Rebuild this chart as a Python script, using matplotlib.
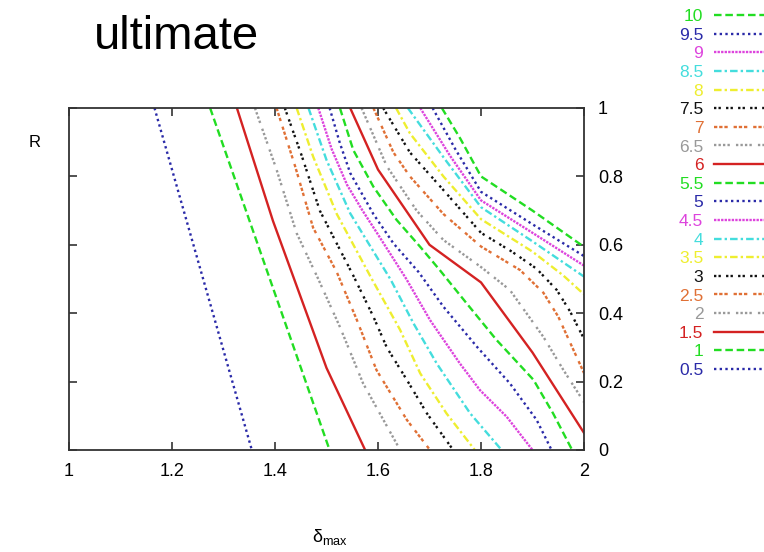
import matplotlib
matplotlib.use("Agg")
import matplotlib.pyplot as plt

plt.rcParams['font.family'] = ['Liberation Sans', 'DejaVu Sans']
plt.rcParams['mathtext.fontset'] = 'custom'
plt.rcParams['mathtext.rm'] = 'Liberation Sans'
plt.rcParams['mathtext.it'] = 'Liberation Sans'

#contour levels, legend order top -> bottom
levels = ['10', '9.5', '9', '8.5', '8', '7.5', '7', '6.5', '6', '5.5',
          '5', '4.5', '4', '3.5', '3', '2.5', '2', '1.5', '1', '0.5']

#each level: delta_max values and R values
d_10 = [1.724, 1.76, 1.80, 1.90, 2.0]
r_10 = [1.0, 0.91, 0.80, 0.70, 0.594]
d_9_5 = [1.706, 1.75, 1.80, 1.90, 2.0]
r_9_5 = [1.0, 0.88, 0.755, 0.66, 0.567]
d_9 = [1.682, 1.74, 1.80, 1.90, 2.0]
r_9 = [1.0, 0.86, 0.73, 0.635, 0.539]
d_8_5 = [1.658, 1.73, 1.80, 1.90, 2.0]
r_8_5 = [1.0, 0.85, 0.71, 0.61, 0.507]
d_8 = [1.635, 1.662, 1.727, 1.80, 1.90, 1.96, 2.0]
r_8 = [1.0, 0.926, 0.80, 0.675, 0.58, 0.51, 0.455]
d_7_5 = [1.61, 1.662, 1.727, 1.80, 1.86, 1.908, 1.947, 1.973, 2.0]
r_7_5 = [1.0, 0.87, 0.76, 0.635, 0.58, 0.53, 0.468, 0.405, 0.325]
d_7 = [1.591, 1.63, 1.662, 1.727, 1.80, 1.876, 1.921, 1.95, 2.0]
r_7 = [1.0, 0.87, 0.80, 0.69, 0.595, 0.526, 0.46, 0.39, 0.225]
d_6_5 = [1.568, 1.617, 1.675, 1.727, 1.80, 1.856, 1.921, 1.96, 2.0]
r_6_5 = [1.0, 0.83, 0.70, 0.614, 0.535, 0.468, 0.331, 0.234, 0.14]
d_6 = [1.546, 1.60, 1.70, 1.80, 1.90, 2.0]
r_6 = [1.0, 0.82, 0.60, 0.49, 0.285, 0.05]
d_5_5 = [1.526, 1.552, 1.591, 1.636, 1.682, 1.72, 1.772, 1.83, 1.902, 1.94, 1.977]
r_5_5 = [1.0, 0.877, 0.77, 0.673, 0.594, 0.526, 0.429, 0.322, 0.205, 0.107, 0.0]
d_5 = [1.506, 1.526, 1.546, 1.591, 1.63, 1.679, 1.727, 1.792, 1.856, 1.908, 1.937]
r_5 = [1.0, 0.897, 0.81, 0.69, 0.604, 0.52, 0.419, 0.302, 0.195, 0.088, 0.0]
d_4_5 = [1.484, 1.51, 1.54, 1.57, 1.60, 1.655, 1.701, 1.759, 1.798, 1.85, 1.90]
r_4_5 = [1.0, 0.88, 0.775, 0.70, 0.63, 0.50, 0.38, 0.253, 0.175, 0.097, 0.0]
d_4 = [1.465, 1.50, 1.546, 1.625, 1.669, 1.714, 1.779, 1.84]
r_4 = [1.0, 0.848, 0.692, 0.497, 0.37, 0.253, 0.107, 0.0]
d_3_5 = [1.442, 1.474, 1.52, 1.588, 1.643, 1.682, 1.733, 1.788]
r_3_5 = [1.0, 0.858, 0.69, 0.50, 0.351, 0.224, 0.107, 0.0]
d_3 = [1.419, 1.452, 1.487, 1.552, 1.591, 1.617, 1.656, 1.695, 1.746]
r_3 = [1.0, 0.86, 0.70, 0.51, 0.39, 0.30, 0.205, 0.107, 0.0]
d_2_5 = [1.403, 1.439, 1.474, 1.52, 1.559, 1.597, 1.656, 1.701]
r_2_5 = [1.0, 0.83, 0.65, 0.52, 0.38, 0.234, 0.088, 0.0]
d_2 = [1.361, 1.403, 1.442, 1.484, 1.526, 1.571, 1.643]
r_2 = [1.0, 0.82, 0.634, 0.5, 0.36, 0.195, 0.0]
d_1_5 = [1.326, 1.396, 1.50, 1.575]
r_1_5 = [1.0, 0.67, 0.24, 0.0]
d_1 = [1.274, 1.506]
r_1 = [1.0, 0.0]
d_0_5 = [1.166, 1.355]
r_0_5 = [1.0, 0.0]

deltas = [d_10, d_9_5, d_9, d_8_5, d_8, d_7_5, d_7, d_6_5, d_6, d_5_5,
          d_5, d_4_5, d_4, d_3_5, d_3, d_2_5, d_2, d_1_5, d_1, d_0_5]
rs = [r_10, r_9_5, r_9, r_8_5, r_8, r_7_5, r_7, r_6_5, r_6, r_5_5,
      r_5, r_4_5, r_4, r_3_5, r_3, r_2_5, r_2, r_1_5, r_1, r_0_5]

#gnuplot-like styles, cycle of 9
colors = ['#22dd22', '#2a2aa8', '#dd44dd', '#44dddd', '#eeee30',
          '#111111', '#e07035', '#999999', '#d42222']
dashes = [(0, (3.2, 1.6)), (0, (1, 1.4)), (0, (1, 0.5)), (0, (3.2, 1.3, 1, 1.3)),
          (0, (3.2, 1.3, 1, 1.3)), (0, (1, 0.9, 1, 2.2)),
          (0, (1.4, 0.8, 1.4, 0.8, 1.4, 2.5)), (0, (1, 0.9, 1, 0.9, 1, 0.9, 1, 2.6)), '-']

fig = plt.figure(figsize=(7.64, 5.52), dpi=100)
ax = fig.add_axes([69/764, 102/552, 515/764, 342/552])

for i in range(len(levels)):
    ax.plot(deltas[i], rs[i], color=colors[i % 9], linestyle=dashes[i % 9],
            linewidth=1.7, label=levels[i])

ax.set_xlim(1, 2)
ax.set_ylim(0, 1)
ax.set_xticks([1, 1.2, 1.4, 1.6, 1.8, 2])
ax.set_xticklabels(['1', '1.2', '1.4', '1.6', '1.8', '2'])
ax.set_yticks([0, 0.2, 0.4, 0.6, 0.8, 1])
ax.set_yticklabels(['0', '0.2', '0.4', '0.6', '0.8', '1'])
ax.tick_params(direction='in', length=6, width=1.2, color='#333333',
               top=True, right=True, left=True, bottom=True,
               labelleft=False, labelright=True, labelsize=13, pad=10)
ax.tick_params(axis='x', pad=9)
for s in ax.spines.values():
    s.set_color('#333333')
    s.set_linewidth(1.3)

leg = ax.legend(loc='upper right', bbox_to_anchor=(778/764, 543/552),
                bbox_transform=fig.transFigure, frameon=False,
                markerfirst=False, labelcolor='linecolor', fontsize=12.5,
                handlelength=3.7, handletextpad=0.6, labelspacing=0.20,
                borderpad=0, borderaxespad=0)

fig.text(176/764, 1 - 49/552, 'ultimate', fontsize=34, ha='center', va='baseline')
fig.text(35/764, 1 - 143/552, 'R', fontsize=12, ha='center', va='center')
fig.text(330/764, 1 - 537/552, r'$\delta_{\mathrm{max}}$', fontsize=13,
         ha='center', va='center')

fig.savefig('out.png', dpi=100)
